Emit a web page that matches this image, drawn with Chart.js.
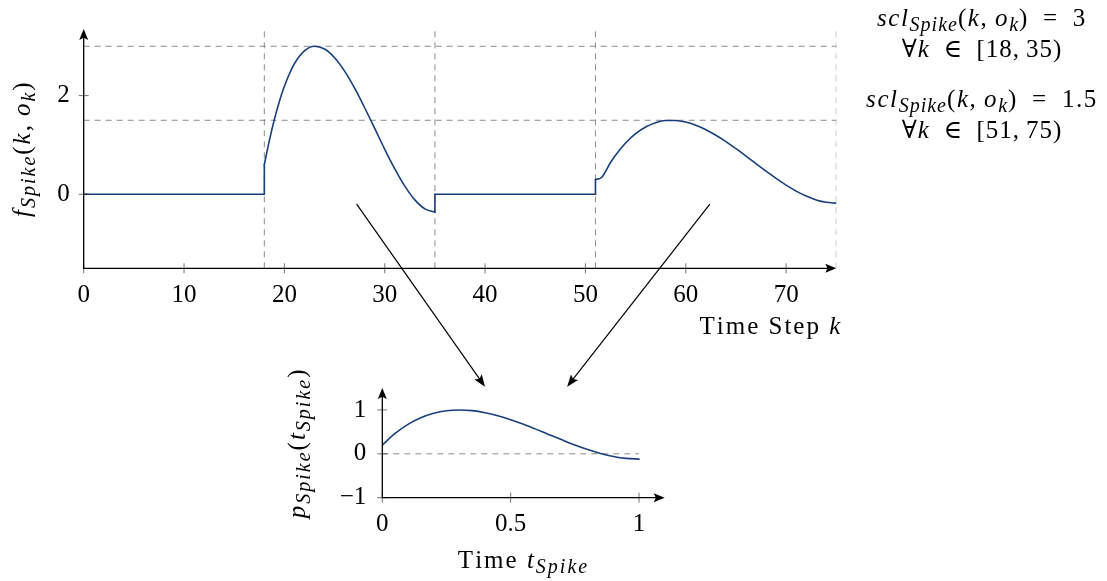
<!DOCTYPE html>
<html>
<head>
<meta charset="utf-8">
<script src="https://cdn.jsdelivr.net/npm/chart.js@4.4.1/dist/chart.umd.min.js"></script>
<style>
html, body { margin: 0; padding: 0; background: #fff; }
#wrap { position: relative; width: 1107px; height: 581px; overflow: hidden; font-family: 'Liberation Serif', 'DejaVu Serif', serif; }
canvas { position: absolute; left: 0; top: 0; }
.note { position: absolute; left: 982px; transform: translateX(-50%); font-size: 25px; line-height: 25px; white-space: nowrap; color: #000; letter-spacing: 1px; }
.note.scl { letter-spacing: 1.6px; }
.note sub { font-size: 20px; line-height: 0; vertical-align: -5px; letter-spacing: 1px; }
</style>
</head>
<body>
<div id="wrap">
  <canvas id="topChart" width="1107" height="581"></canvas>
  <canvas id="spikeChart" width="1107" height="581"></canvas>
  <canvas id="links" width="1107" height="581"></canvas>
  <div class="note scl" style="top:5px"><i>scl</i><sub><i>Spike</i></sub>(<i>k</i>,&thinsp;<i>o</i><sub><i>k</i></sub>)&ensp;=&ensp;3</div>
  <div class="note" style="top:36px">∀<i>k</i>&ensp;∈&ensp;[18,&thinsp;35)</div>
  <div class="note scl" style="top:86px"><i>scl</i><sub><i>Spike</i></sub>(<i>k</i>,&thinsp;<i>o</i><sub><i>k</i></sub>)&ensp;=&ensp;1.5</div>
  <div class="note" style="top:117px">∀<i>k</i>&ensp;∈&ensp;[51,&thinsp;75)</div>
</div>
<script>
// ------------ DATA ------------

// upper plot: f_Spike(k, o_k) over the time step k
const stepK = [0, 18, 18, 18.5, 19, 19.5, 20, 21, 22, 23, 24, 25, 26, 27, 28, 29, 30, 31, 32, 33, 34, 35, 35,
               51, 51, 51.6, 52.5, 53, 54, 55, 56, 57, 58, 59, 60, 61, 62, 63, 64, 65, 66, 67, 68, 69, 70, 71, 72, 73, 74, 75];
const stepF = [0, 0, 0.6, 1.089, 1.517, 1.881, 2.19, 2.647, 2.908, 3.0, 2.944, 2.769, 2.496, 2.15, 1.754, 1.335, 0.911, 0.514, 0.165, -0.113, -0.296, -0.36, 0,
               0, 0.3, 0.34, 0.644, 0.792, 1.04, 1.229, 1.365, 1.452, 1.494, 1.497, 1.464, 1.398, 1.309, 1.196, 1.067, 0.925, 0.775, 0.621, 0.468, 0.323, 0.186, 0.065, -0.036, -0.114, -0.162, -0.18];

// lower plot: spike profile p_Spike(t_Spike)
const spikeT = [0, 0.05, 0.1, 0.15, 0.2, 0.25, 0.3, 0.35, 0.4, 0.45, 0.5, 0.55, 0.6, 0.65, 0.7, 0.75, 0.8, 0.85, 0.9, 0.95, 1];
const spikeP = [0.2, 0.465, 0.671, 0.822, 0.924, 0.982, 1.0, 0.984, 0.938, 0.867, 0.777, 0.672, 0.557, 0.437, 0.318, 0.203, 0.098, 0.009, -0.06, -0.104, -0.12];

// dashed helper lines
const sclLevels = [3, 1.5];
const segBounds = [18, 35, 51, 75];
const spikeZero = [0, 1];

// ticks and ranges
const topXTicks = [0, 10, 20, 30, 40, 50, 60, 70];
const topYTicks = [0, 2];
const botXTicks = [0, 0.5, 1];
const botYTicks = [-1, 0, 1];
const topXRange = [0, 75];
const topYRange = [-1.5, 3.35];
const botXRange = [0, 1.1];
const botYRange = [-1, 1.5];

// arrows from the upper plot down to the spike profile
const linkFrom = [[27.2, -0.2], [62.4, -0.2]];
const linkTo = [[0.4, 1.53], [0.72, 1.53]];

// ------------ STYLE ------------

const SERIF = "'Liberation Serif', 'DejaVu Serif', serif";
const CURVE = '#183f7c';
const DASH = '#8c8c8c';
const FS = 25, SUB = 20, SUB_DROP = 5;

Chart.defaults.font.family = SERIF;
Chart.defaults.color = '#000';

function fmt(v) { return v < 0 ? '\u2212' + Math.abs(v) : String(v); }

function drawRich(ctx, runs, x, y, rot, align, track) {
    ctx.save();
    ctx.translate(x, y);
    ctx.rotate(rot);
    ctx.textBaseline = 'alphabetic';
    ctx.fillStyle = '#000';
    const fontOf = s => (s === 'r' ? '' : 'italic ') + (s === 's' ? SUB : FS) + 'px ' + SERIF;
    let w = 0;
    runs.forEach(([t, s]) => {
        ctx.font = fontOf(s);
        for (const ch of t) w += ctx.measureText(ch).width + track;
    });
    let cx = align === 'center' ? -w / 2 : align === 'right' ? -w : 0;
    runs.forEach(([t, s]) => {
        ctx.font = fontOf(s);
        for (const ch of t) {
            ctx.fillText(ch, cx, s === 's' ? SUB_DROP : 0);
            cx += ctx.measureText(ch).width + track;
        }
    });
    ctx.restore();
}

function arrowHead(ctx, x, y, dx, dy, len, half) {
    const l = Math.hypot(dx, dy), ux = dx / l, uy = dy / l;
    ctx.beginPath();
    ctx.moveTo(x, y);
    ctx.lineTo(x - ux * len - uy * half, y - uy * len + ux * half);
    ctx.lineTo(x - ux * len * 0.8, y - uy * len * 0.8);
    ctx.lineTo(x - ux * len + uy * half, y - uy * len - ux * half);
    ctx.closePath();
    ctx.fill();
}

// axis lines with arrows, ticks crossing the axis, and the axis titles
const axisDeco = {
    id: 'axisDeco',
    afterDraw(chart, args, opts) {
        const { ctx, chartArea: a, scales } = chart;
        ctx.save();
        ctx.strokeStyle = 'rgba(0,0,0,0.55)';
        ctx.lineWidth = 1;
        scales.x.ticks.forEach(t => {
            const px = scales.x.getPixelForValue(t.value);
            ctx.beginPath(); ctx.moveTo(px, a.bottom - 5); ctx.lineTo(px, a.bottom + 5); ctx.stroke();
        });
        scales.y.ticks.forEach(t => {
            const py = scales.y.getPixelForValue(t.value);
            ctx.beginPath(); ctx.moveTo(a.left - 5, py); ctx.lineTo(a.left + 5, py); ctx.stroke();
        });
        ctx.strokeStyle = '#000';
        ctx.fillStyle = '#000';
        ctx.lineWidth = 1.3;
        ctx.beginPath();
        ctx.moveTo(a.left, a.top + 6);
        ctx.lineTo(a.left, a.bottom);
        ctx.lineTo(a.right - 6, a.bottom);
        ctx.stroke();
        arrowHead(ctx, a.left, a.top, 0, -1, 11, 4.5);
        arrowHead(ctx, a.right, a.bottom, 1, 0, 11, 4.5);
        ctx.restore();

        const mid = (a.top + a.bottom) / 2;
        drawRich(ctx, opts.yTitle, a.left + opts.yTitleDx, mid, -Math.PI / 2, 'center', opts.track);
        const xx = opts.xAlign === 'right' ? a.right + opts.xTitleDx : (a.left + a.right) / 2;
        drawRich(ctx, opts.xTitle, xx, a.bottom + opts.xTitleDy, 0, opts.xAlign, opts.track);
    }
};

function dashed(points) {
    return { data: points, borderColor: DASH, borderWidth: 1, borderDash: [6, 5], pointRadius: 0, tension: 0, order: 2 };
}

function curve(points, smooth) {
    return {
        data: points, borderColor: CURVE, borderWidth: 1.6, pointRadius: 0, order: 0,
        borderCapStyle: 'round', borderJoinStyle: 'round',
        cubicInterpolationMode: smooth ? 'monotone' : 'default', tension: 0
    };
}

// split a series at its vertical jumps: smooth runs between, straight jumps
function curveSets(xs, ys) {
    const sets = [];
    let run = [{ x: xs[0], y: ys[0] }];
    for (let i = 1; i < xs.length; i++) {
        const p = { x: xs[i], y: ys[i] };
        if (xs[i] === xs[i - 1]) {
            sets.push(curve(run, true));
            sets.push(curve([run[run.length - 1], p], false));
            run = [p];
        } else {
            run.push(p);
        }
    }
    sets.push(curve(run, true));
    return sets;
}

function scaleX(range, ticks, pad) {
    return {
        type: 'linear', min: range[0], max: range[1],
        afterBuildTicks: s => { s.ticks = ticks.map(v => ({ value: v })); },
        afterFit: s => { s.height = 50; },
        grid: { display: false, drawTicks: false },
        border: { display: false },
        ticks: { autoSkip: false, maxRotation: 0, padding: pad, font: { size: FS, lineHeight: 1.2 }, color: '#000', callback: v => fmt(v) }
    };
}

function scaleY(range, ticks, pad) {
    return {
        type: 'linear', min: range[0], max: range[1],
        afterBuildTicks: s => { s.ticks = ticks.map(v => ({ value: v })); },
        afterFit: s => { s.width = 50; },
        grid: { display: false, drawTicks: false },
        border: { display: false },
        ticks: { autoSkip: false, padding: pad, font: { size: FS, lineHeight: 1.2 }, color: '#000', callback: v => fmt(v) }
    };
}

// ------------ UPPER PLOT ------------

const topDatasets = curveSets(stepK, stepF);
sclLevels.forEach(v => topDatasets.push(dashed([{ x: topXRange[0], y: v }, { x: topXRange[1], y: v }])));
segBounds.forEach(v => topDatasets.push(dashed([{ x: v, y: topYRange[0] }, { x: v, y: topYRange[1] }])));

const topChart = new Chart(document.getElementById('topChart').getContext('2d'), {
    type: 'line',
    data: { datasets: topDatasets },
    plugins: [axisDeco],
    options: {
        responsive: false, animation: false, events: [], devicePixelRatio: 1,
        layout: { padding: { left: 33.7, top: 20.8, right: 270.7, bottom: 262.7 } },
        scales: { x: scaleX(topXRange, topXTicks, 12), y: scaleY(topYRange, topYTicks, 14) },
        plugins: {
            legend: { display: false }, tooltip: { enabled: false },
            axisDeco: {
                yTitle: [['f', 'i'], ['Spike', 's'], ['(', 'r'], ['k', 'i'], [',\u2009', 'r'], ['o', 'i'], ['k', 's'], [')', 'r']],
                yTitleDx: -54,
                xTitle: [['Time Step ', 'r'], ['k', 'i']],
                xAlign: 'right', xTitleDx: 6, xTitleDy: 66,
                track: 2
            }
        }
    }
});

// ------------ LOWER PLOT ------------

const spikeChart = new Chart(document.getElementById('spikeChart').getContext('2d'), {
    type: 'line',
    data: {
        datasets: [
            curve(spikeT.map((t, i) => ({ x: t, y: spikeP[i] })), true),
            dashed([{ x: spikeZero[0], y: 0 }, { x: spikeZero[1], y: 0 }])
        ]
    },
    plugins: [axisDeco],
    options: {
        responsive: false, animation: false, events: [], devicePixelRatio: 1,
        layout: { padding: { left: 332.3, top: 388, right: 442.3, bottom: 33.3 } },
        scales: { x: scaleX(botXRange, botXTicks, 12), y: scaleY(botYRange, botYTicks, 16) },
        plugins: {
            legend: { display: false }, tooltip: { enabled: false },
            axisDeco: {
                yTitle: [['p', 'i'], ['Spike', 's'], ['(', 'r'], ['t', 'i'], ['Spike', 's'], [')', 'r']],
                yTitleDx: -77,
                xTitle: [['Time ', 'r'], ['t', 'i'], ['Spike', 's']],
                xAlign: 'center', xTitleDy: 70,
                track: 2
            }
        }
    }
});

// ------------ CONNECTING ARROWS ------------

const lctx = document.getElementById('links').getContext('2d');
lctx.strokeStyle = '#000';
lctx.fillStyle = '#000';
lctx.lineWidth = 1.2;
linkFrom.forEach((f, i) => {
    const x0 = topChart.scales.x.getPixelForValue(f[0]);
    const y0 = topChart.scales.y.getPixelForValue(f[1]);
    const x1 = spikeChart.scales.x.getPixelForValue(linkTo[i][0]);
    const y1 = spikeChart.scales.y.getPixelForValue(linkTo[i][1]);
    const l = Math.hypot(x1 - x0, y1 - y0);
    lctx.beginPath();
    lctx.moveTo(x0, y0);
    lctx.lineTo(x1 - (x1 - x0) / l * 8, y1 - (y1 - y0) / l * 8);
    lctx.stroke();
    arrowHead(lctx, x1, y1, x1 - x0, y1 - y0, 12, 4.5);
});
</script>
</body>
</html>
